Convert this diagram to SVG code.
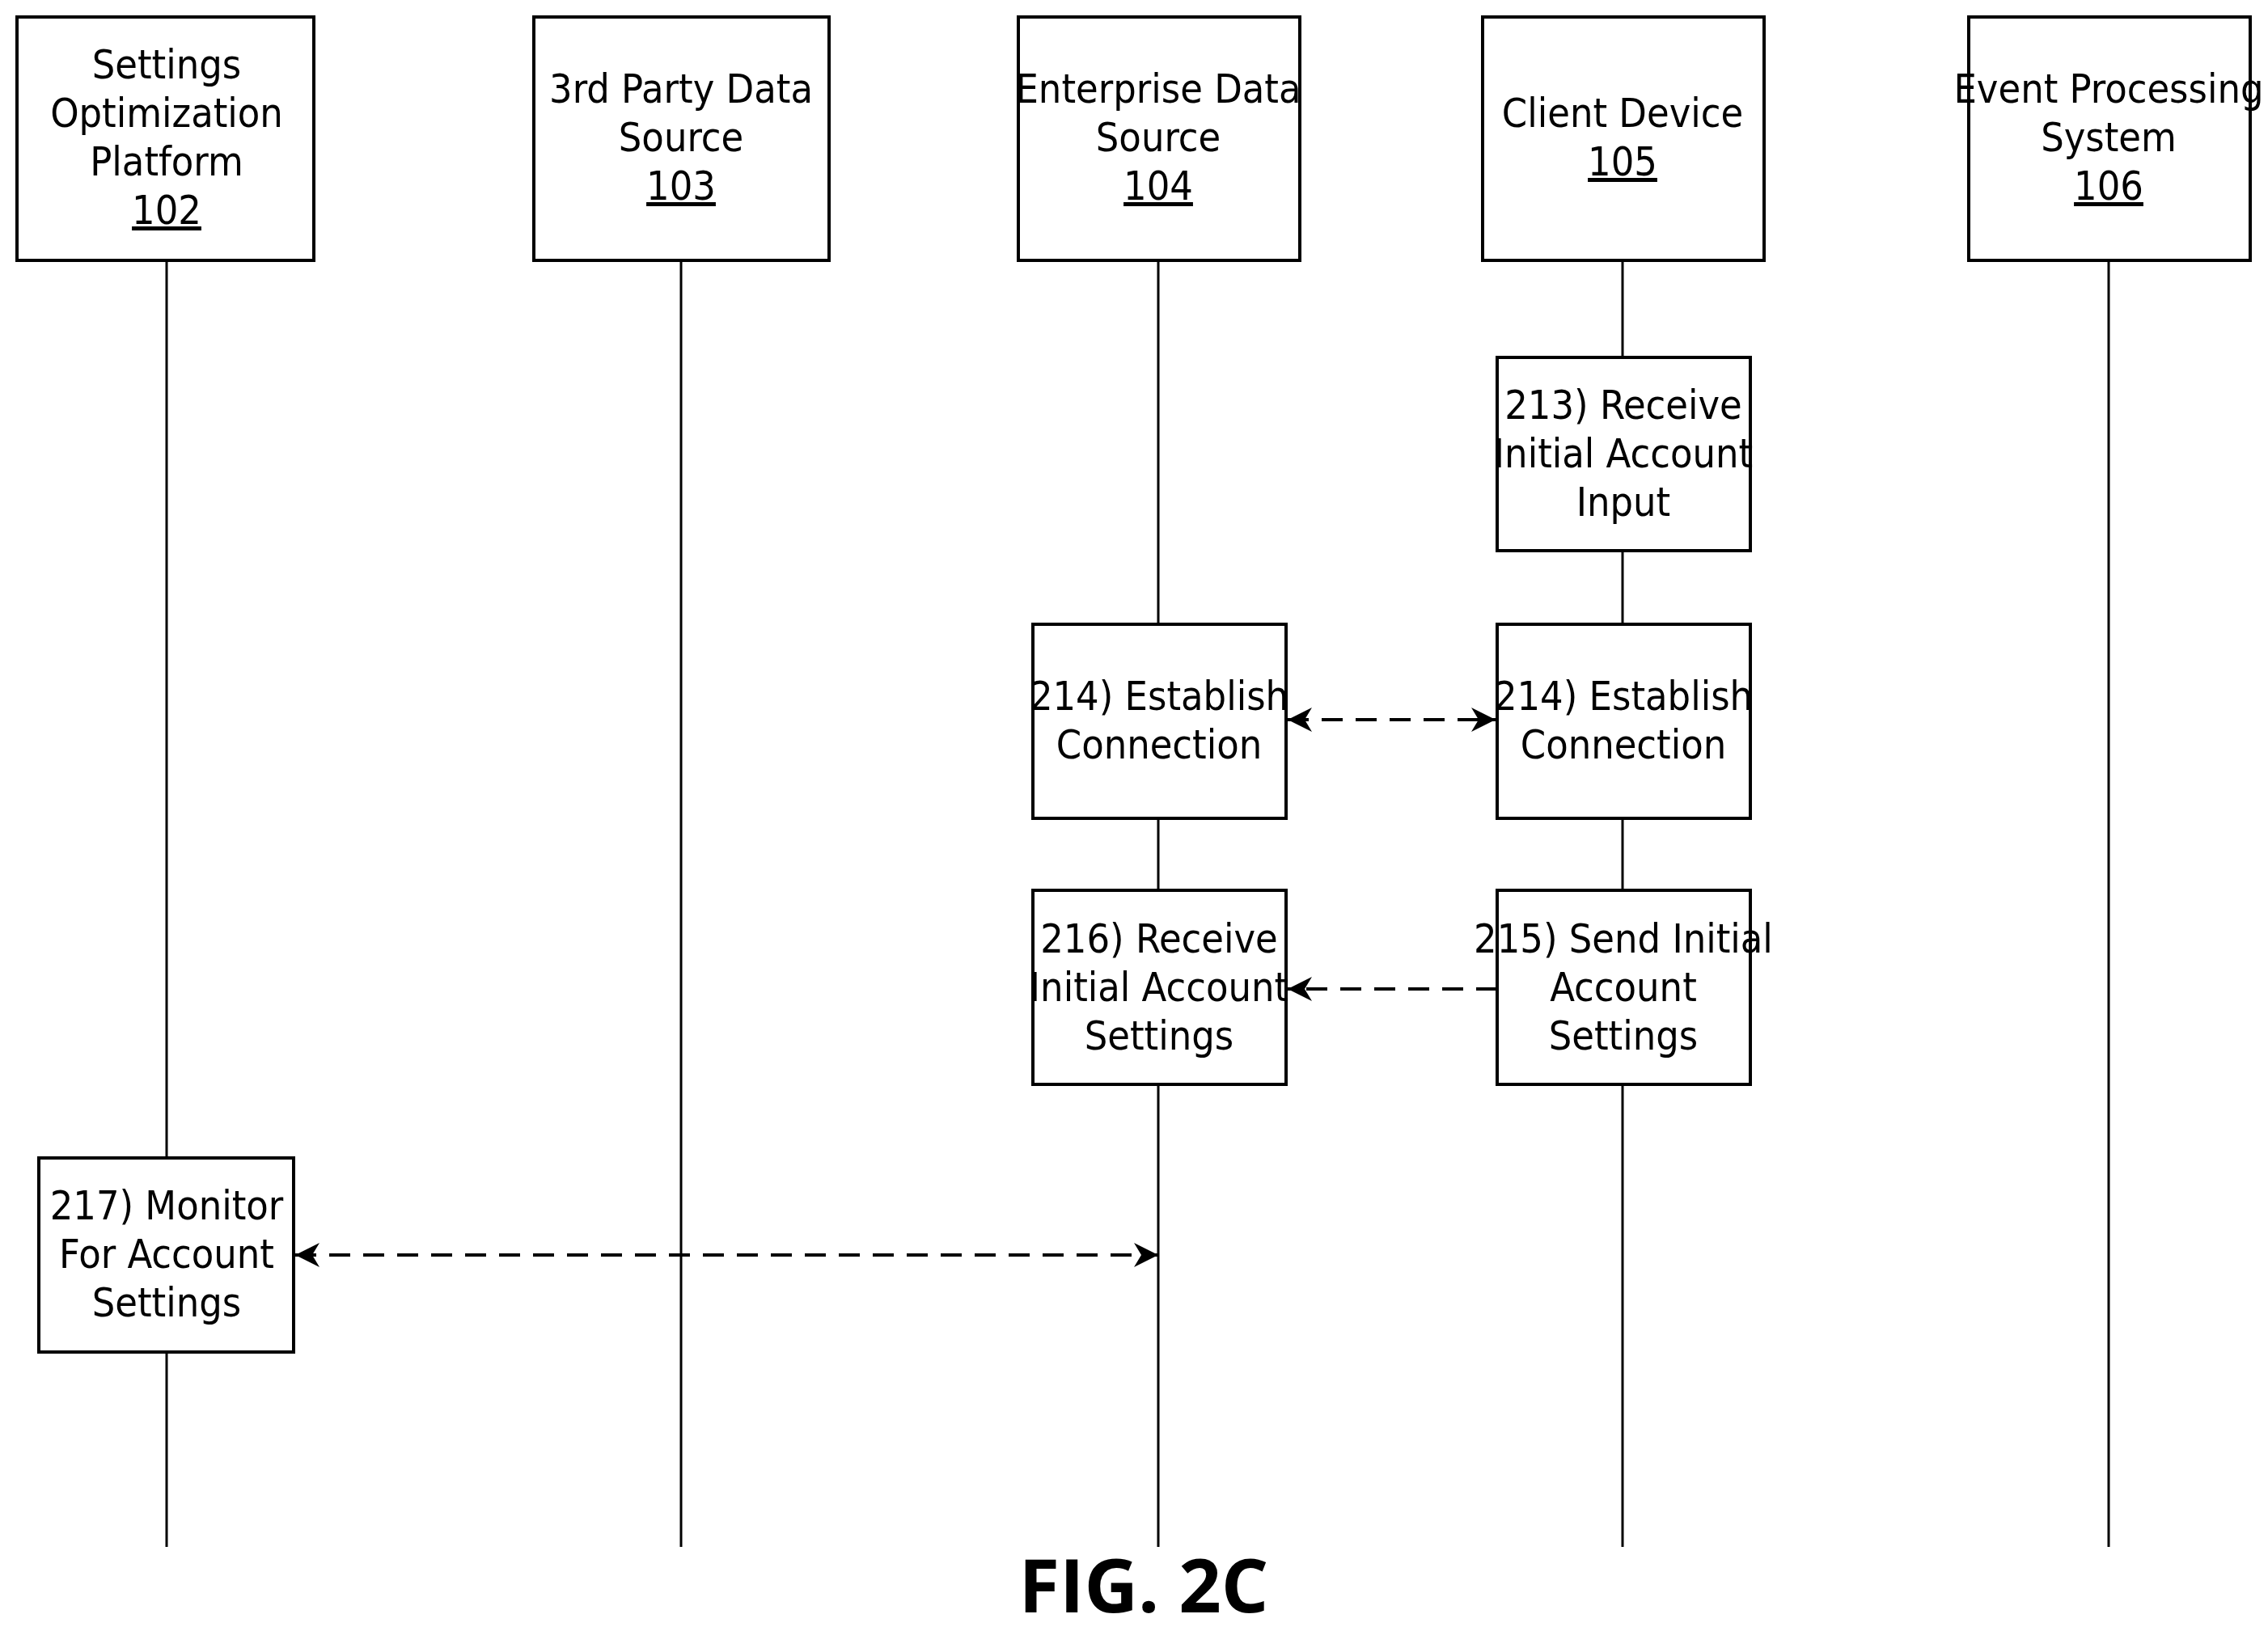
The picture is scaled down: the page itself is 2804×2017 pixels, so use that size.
<svg xmlns="http://www.w3.org/2000/svg" width="2804" height="2017" viewBox="0 0 2804 2017">
<style>
.b{fill:#fff;stroke:#000;stroke-width:4}
.l{stroke:#000;stroke-width:3;fill:none}
.d{stroke:#000;stroke-width:4;fill:none;stroke-dasharray:26 16}
text{font-family:"Liberation Sans Narrow","DejaVu Sans Condensed","Liberation Sans",sans-serif;font-size:50px;text-anchor:middle;fill:#000}
.f{font-family:"Open Sans","Liberation Sans",sans-serif;font-weight:bold;font-size:92px;font-stretch:normal}
</style>
<defs>
<marker id="a" viewBox="0 0 10 10" refX="10" refY="5" markerWidth="9" markerHeight="9" markerUnits="userSpaceOnUse" orient="auto-start-reverse"><path d="M0,0 L10,5 L0,10 L3,5 Z" fill="#000"/></marker>
</defs>
<defs><marker id="m" viewBox="0 0 10 10" refX="10" refY="5" markerWidth="30" markerHeight="30" markerUnits="userSpaceOnUse" orient="auto-start-reverse"><path d="M0,0 L10,5 L0,10 L3,5 Z" fill="#000"/></marker></defs>
<g id="lifelines">
<line class="l" x1="206" y1="322" x2="206" y2="1913"/>
<line class="l" x1="842" y1="322" x2="842" y2="1913"/>
<line class="l" x1="1432" y1="322" x2="1432" y2="1913"/>
<line class="l" x1="2006" y1="322" x2="2006" y2="1913"/>
<line class="l" x1="2607" y1="322" x2="2607" y2="1913"/>
</g>
<g id="n102"><rect class="b" x="21" y="21" width="367" height="301"/>
<text x="206" y="97">Settings</text><text x="206" y="157">Optimization</text><text x="206" y="217">Platform</text><text x="206" y="277" text-decoration="underline">102</text></g>
<g id="n103"><rect class="b" x="660" y="21" width="365" height="301"/>
<text x="842" y="127">3rd Party Data</text><text x="842" y="187">Source</text><text x="842" y="247" text-decoration="underline">103</text></g>
<g id="n104"><rect class="b" x="1259" y="21" width="348" height="301"/>
<text x="1432" y="127">Enterprise Data</text><text x="1432" y="187">Source</text><text x="1432" y="247" text-decoration="underline">104</text></g>
<g id="n105"><rect class="b" x="1833" y="21" width="348" height="301"/>
<text x="2006" y="157">Client Device</text><text x="2006" y="217" text-decoration="underline">105</text></g>
<g id="n106"><rect class="b" x="2434" y="21" width="348" height="301"/>
<text x="2607" y="127">Event Processing</text><text x="2607" y="187">System</text><text x="2607" y="247" text-decoration="underline">106</text></g>
<g id="s213"><rect class="b" x="1851" y="442" width="313" height="239"/>
<text x="2007" y="518">213) Receive</text><text x="2007" y="578">Initial Account</text><text x="2007" y="638">Input</text></g>
<g id="s214a"><rect class="b" x="1277" y="772" width="313" height="240"/>
<text x="1433" y="878">214) Establish</text><text x="1433" y="938">Connection</text></g>
<g id="s214b"><rect class="b" x="1851" y="772" width="313" height="240"/>
<text x="2007" y="878">214) Establish</text><text x="2007" y="938">Connection</text></g>
<g id="s216"><rect class="b" x="1277" y="1101" width="313" height="240"/>
<text x="1433" y="1178">216) Receive</text><text x="1433" y="1238">Initial Account</text><text x="1433" y="1298">Settings</text></g>
<g id="s215"><rect class="b" x="1851" y="1101" width="313" height="240"/>
<text x="2007" y="1178">215) Send Initial</text><text x="2007" y="1238">Account</text><text x="2007" y="1298">Settings</text></g>
<g id="s217"><rect class="b" x="48" y="1432" width="315" height="240"/>
<text x="206" y="1508">217) Monitor</text><text x="206" y="1568">For Account</text><text x="206" y="1628">Settings</text></g>
<g id="connectors">
<line class="d" x1="1592" y1="890" x2="1849" y2="890" marker-start="url(#m)" marker-end="url(#m)"/>
<line class="d" x1="1851" y1="1223" x2="1592" y2="1223" marker-end="url(#m)"/>
<line class="d" x1="365" y1="1552" x2="1432" y2="1552" marker-start="url(#m)" marker-end="url(#m)"/>
</g>
<text class="f" x="1414" y="1994">FIG. 2C</text>
</svg>
